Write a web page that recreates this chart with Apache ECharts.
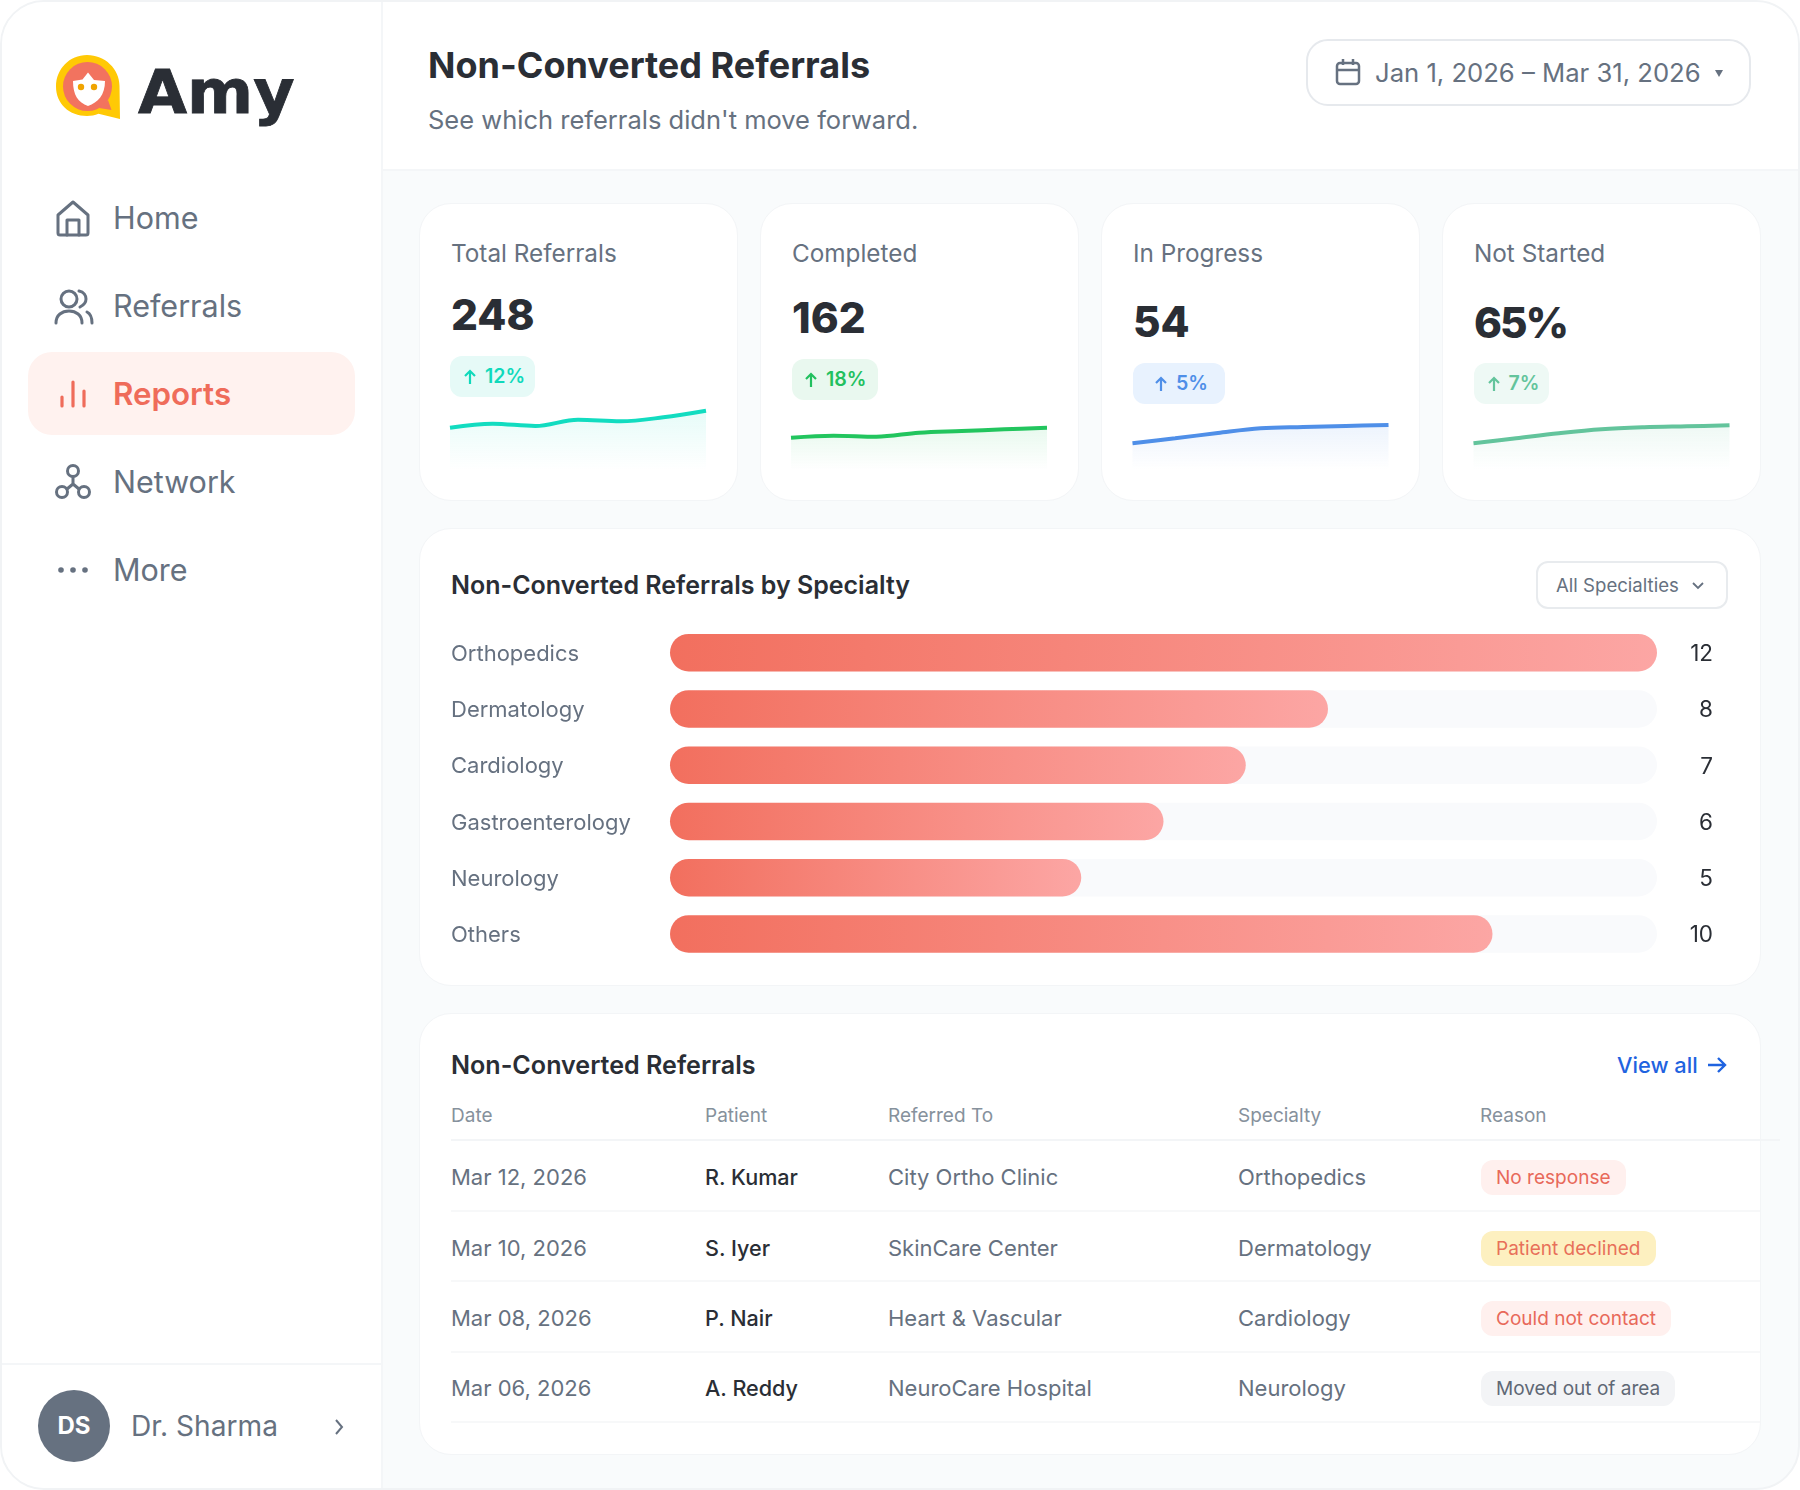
<!DOCTYPE html>
<html><head><meta charset="utf-8">
<script src="https://cdn.jsdelivr.net/npm/echarts@6/dist/echarts.min.js"></script>
<style>
html,body{margin:0;padding:0;background:#fff;width:1800px;height:1490px;overflow:hidden;font-family:Inter,"Noto Sans",sans-serif;-webkit-font-smoothing:antialiased}
#frame{position:absolute;left:0;top:0;width:1796px;height:1486px;border:2px solid #f1f3f5;border-radius:44px;overflow:hidden;background:#f9fbfc}
.abs{position:absolute}
.t{position:absolute;white-space:nowrap;transform:translateY(-50%);line-height:1.2}
.card{position:absolute;background:#fff;border:1px solid #f3f5f7;box-sizing:border-box;border-radius:32px}
#chart{position:absolute;left:0;top:0;width:1800px;height:1490px}
svg{position:absolute;overflow:visible}
</style></head><body>
<div id="frame"></div>
<div id="ui"></div>
<div id="chart"></div>
<script>
// ---- chart data ----
const specialties = ['Orthopedics','Dermatology','Cardiology','Gastroenterology','Neurology','Others'];
const specialtyCounts = [12,8,7,6,5,10];
const sparkTotal = [37.3,41.3,39,45.3,43.7,47.7,54.3];
const sparkCompleted = [27.3,29.3,28.3,32.3,34,35.7,37.3];
const sparkProgress = [21.7,26.7,32,36.7,38,39,40];
const sparkNotStarted = [21.7,26.7,31.7,35.7,37.7,38.7,39.7];
const kpiLabels = ['Total Referrals','Completed','In Progress','Not Started'];
const kpiValues = ['248','162','54','65%'];
const kpiDeltas = ['12%','18%','5%','7%'];
const navItems = ['Home','Referrals','Reports','Network','More'];
const tableHead = ['Date','Patient','Referred To','Specialty','Reason'];
const tableDates = ['Mar 12, 2026','Mar 10, 2026','Mar 08, 2026','Mar 06, 2026'];
const tablePatients = ['R. Kumar','S. Iyer','P. Nair','A. Reddy'];
const tableClinics = ['City Ortho Clinic','SkinCare Center','Heart & Vascular','NeuroCare Hospital'];
const tableSpecialties = ['Orthopedics','Dermatology','Cardiology','Neurology'];
const tableReasons = ['No response','Patient declined','Could not contact','Moved out of area'];

// ---- page chrome ----
const ui = document.getElementById('ui');
function box(x,y,w,h,css){const d=document.createElement('div');d.className='abs';d.style.cssText=`left:${x}px;top:${y}px;width:${w}px;height:${h}px;${css||''}`;ui.appendChild(d);return d;}
function text(s,x,y,size,color,weight,extra){const d=document.createElement('div');d.className='t';d.textContent=s;d.style.cssText=`left:${x}px;top:${y}px;font-size:${size}px;color:${color};font-weight:${weight||400};${extra||''}`;ui.appendChild(d);return d;}
function svg(inner,x,y,w,h){const n=document.createElementNS('http://www.w3.org/2000/svg','svg');n.setAttribute('width',w);n.setAttribute('height',h);n.setAttribute('viewBox',`0 0 ${w} ${h}`);n.style.left=x+'px';n.style.top=y+'px';n.innerHTML=inner;ui.appendChild(n);return n;}
const GREY='#667180', INK='#2a2e35';

// sidebar + header
box(2,2,379,1486,'background:#fff;border-radius:42px 0 0 42px');
box(381,2,1417,168,'background:#fff;border-radius:0 42px 0 0');
box(381,2,2,1486,'background:#f4f6f8');
box(383,169,1415,2,'background:#f4f6f8');
box(2,1363,379,2,'background:#f4f6f8');

// logo
svg(`<path d="M32 1C14.5 1 1 15 1 32.5 1 50 14.5 62 32 62c4 0 8-.8 11.500-2.200L65 65 64.500 32C64.500 15 50 1 32 1Z" fill="#ffc905"/>
<circle cx="32.500" cy="32.500" r="24.500" fill="#f2735f"/><path d="M53 46 56.500 56 44 54Z" fill="#f2735f"/>
<path d="M33 18.500 39 26 50 27C50 41 43 48.500 33 52 23 48.500 18 41 18 27L27.500 25.500Z" fill="#fff"/>
<circle cx="26" cy="33" r="3.200" fill="#f0a400"/><circle cx="39" cy="33" r="3.200" fill="#f0a400"/>`,55,54,66,66);
text('Amy',138,91.500,61,INK,700,'font-family:"DejaVu Sans";transform-origin:0 50%;transform:translateY(-50%) scaleX(1.04);-webkit-text-stroke:.8px '+INK);

// nav
box(28,352,327,83,'background:#fff2ef;border-radius:24px');
const navY=[218,306,395,482,570];
navItems.forEach((n,i)=>{const on=n==='Reports';text(n,113,navY[i],on?31.300:30.500,on?'#ef6c5a':GREY,on?600:400);});
const st=`fill="none" stroke="${GREY}" stroke-width="3" stroke-linecap="round" stroke-linejoin="round"`;
svg(`<path d="M2 15 17 2 32 15V33a2 2 0 0 1-2 2H4a2 2 0 0 1-2-2Z" ${st}/><path d="M11 35V20H23V35" ${st}/>`,56,200,34,38);
svg(`<circle cx="15" cy="10" r="8" ${st}/><path d="M2 34C2 26 8 22 15 22S28 26 28 34" ${st}/><path d="M25 2C30 3 32 7 32 10S30 16 26 18M33 23C37 25 38 29 38 34" ${st}/>`,54,289,40,36);
svg(`<g fill="none" stroke="#ef6c5a" stroke-width="3.200" stroke-linecap="round"><path d="M2 26V17M13 26V2M24 26V11"/></g>`,60,380,26,28);
svg(`<circle cx="18" cy="7" r="5.500" ${st}/><circle cx="7" cy="28" r="5.500" ${st}/><circle cx="29" cy="28" r="5.500" ${st}/><path d="M18 13V20M18 20 12 25M18 20 24 25" ${st}/>`,55,464,36,36);
svg(`<g fill="${GREY}"><circle cx="3" cy="3" r="2.800"/><circle cx="15" cy="3" r="2.800"/><circle cx="27" cy="3" r="2.800"/></g>`,58,567,30,6);

// user
box(38,1390,72,72,'background:#667180;border-radius:50%');
text('DS',74,1426,24,'#fff',700,'transform:translate(-50%,-50%)');
text('Dr. Sharma',131,1427,28.100,GREY);
svg(`<path d="M2 2 8 9 2 16" fill="none" stroke="${GREY}" stroke-width="2"/>`,334,1418,10,18);

// header
text('Non-Converted Referrals',428,66,36,INK,700);
text("See which referrals didn't move forward.",428,120,25.500,GREY);
box(1306,39,445,67,'box-sizing:border-box;border:2px solid #e6e9ed;border-radius:22px;background:#fff');
svg(`<rect x="2" y="5" width="22" height="21" rx="3" fill="none" stroke="${GREY}" stroke-width="2.500"/><path d="M2 12H24M8 1V7M18 1V7" fill="none" stroke="${GREY}" stroke-width="2.500"/>`,1335,58,26,28);
text('Jan 1, 2026 – Mar 31, 2026',1375,73,25.650,GREY);
svg(`<path d="M0 0H8L4 7Z" fill="${GREY}"/>`,1715,70,8,7);

// KPI cards
const cardX=[419,760,1101,1442], textX=[451,792,1133,1474];
const valY=[315,318,321.500,322.500], badge=[[450,356,85,41,'#e6faf7','#10d9bb'],[791.500,359,86,41,'#e9f8ef','#22c05f'],[1132.500,363,92,41,'#e8f2fe','#4f8fe8'],[1473.500,363,75.500,41,'#eef9f5','#63c49c']];
const arrowX=[463,804,1154,1487], deltaX=[485,826,1176,1508.500];
kpiLabels.forEach((l,i)=>{
  const c=document.createElement('div');c.className='card';c.style.cssText=`left:${cardX[i]}px;top:203px;width:319px;height:298px`;ui.appendChild(c);
  text(l,textX[i],254,24.300,GREY);
  text(kpiValues[i],textX[i],valY[i],42.300,INK,800,i===3?'letter-spacing:-2px':'');
  const b=badge[i];
  box(b[0],b[1],b[2],b[3],`background:${b[4]};border-radius:12px`);
  svg(`<path d="M7 15V2M2 7 7 2 12 7" fill="none" stroke="${b[5]}" stroke-width="2.200"/>`,arrowX[i],b[1]+13,14,16);
  text(kpiDeltas[i],deltaX[i],b[1]+21,19.600,b[5],600);
});

// specialty card
{const c=document.createElement('div');c.className='card';c.style.cssText='left:419px;top:528px;width:1342px;height:458px';ui.appendChild(c);}
text('Non-Converted Referrals by Specialty',451,585,25,INK,600);
box(1536,561,192,48,'box-sizing:border-box;border:2px solid #e8ebee;border-radius:12px;background:#fff');
text('All Specialties',1556,584.500,18.600,GREY);
svg(`<path d="M1 1 6 6 11 1" fill="none" stroke="${GREY}" stroke-width="1.800"/>`,1692,582,12,8);

// table card
{const c=document.createElement('div');c.className='card';c.style.cssText='left:419px;top:1012.500px;width:1342px;height:442.500px';ui.appendChild(c);}
text('Non-Converted Referrals',451,1064.500,25.100,INK,600);
text('View all',1617,1065,21.800,'#1f63e0',500);
svg(`<path d="M1 8H18M11 1 18 8 11 15" fill="none" stroke="#1f63e0" stroke-width="2.400"/>`,1707,1057,19,16);
const colX=[451,705,888,1238,1480];
tableHead.forEach((h,i)=>text(h,colX[i],1116,19,'#86919c',400));
box(451,1139,1329,2,'background:#f3f5f7');
const rowY=[1177,1248,1318,1388], lineY=[1210,1280,1351,1421];
const reasonBox=[[144.500,'#fff0ee','#e8695a'],[175,'#fdf0c0','#e8705a'],[190,'#fff0ee','#e8695a'],[194,'#f3f4f6','#5f6875']];
tableDates.forEach((d,i)=>{
  text(d,colX[0],rowY[i],22,GREY);
  text(tablePatients[i],colX[1],rowY[i]+1,21.600,INK,500);
  text(tableClinics[i],colX[2],rowY[i],22,GREY);
  text(tableSpecialties[i],colX[3],rowY[i],22,GREY);
  const r=reasonBox[i];
  box(1481,rowY[i]-17.500+(i?.5:0),r[0],35,`background:${r[1]};border-radius:12px`);
  text(tableReasons[i],1496,rowY[i]+.5,19.050,r[2],400);
  box(451,lineY[i],1309,1.500,'background:#f7f8f9');
});

// ---- charts ----
const chart = echarts.init(document.getElementById('chart'),null,{width:1800,height:1490});
const sparks=[[sparkTotal,'#12dcc0','18,220,192',450],[sparkCompleted,'#22c55e','34,197,94',791],[sparkProgress,'#4f8fe8','79,143,232',1132.500],[sparkNotStarted,'#63c49c','99,196,156',1473.500]];
const grids=[{left:670,width:987,top:624.500,height:337.500}];
const xAxes=[{type:'value',gridIndex:0,min:0,max:12,show:false}];
const yAxes=[
 {type:'category',gridIndex:0,inverse:true,data:specialties,axisLine:{show:false},axisTick:{show:false},
  axisLabel:{align:'left',margin:219,fontFamily:'Inter',fontSize:22,color:'#667180',verticalAlign:'top',lineHeight:3.400}},
 {type:'category',gridIndex:0,inverse:true,position:'right',data:specialtyCounts.map(String),axisLine:{show:false},axisTick:{show:false},
  axisLabel:{align:'right',margin:56,fontFamily:'Inter',fontSize:22.500,color:'#2a2e35',verticalAlign:'top',lineHeight:3.400}}
];
const series=[{type:'bar',xAxisIndex:0,yAxisIndex:0,data:specialtyCounts,barWidth:37.500,
  showBackground:true,backgroundStyle:{color:'#f9fafc',borderRadius:18.750},
  itemStyle:{borderRadius:18.750,color:new echarts.graphic.LinearGradient(0,0,1,0,[{offset:0,color:'#f26f5e'},{offset:1,color:'#fca6a4'}])},silent:true}];
sparks.forEach((s,i)=>{
  grids.push({left:s[3],width:256,top:400,height:70});
  xAxes.push({type:'category',gridIndex:i+1,boundaryGap:false,show:false,data:s[0].map((_,k)=>k)});
  yAxes.push({type:'value',gridIndex:i+1,min:-5,max:65,show:false});
  series.push({type:'line',xAxisIndex:i+1,yAxisIndex:i+2,data:s[0],smooth:.35,symbol:'none',silent:true,
    lineStyle:{color:s[1],width:4,cap:'butt'},
    areaStyle:{origin:'start',color:new echarts.graphic.LinearGradient(0,0,0,1,[{offset:0,color:`rgba(${s[2]},.15)`},{offset:1,color:`rgba(${s[2]},0)`}])}});
});
chart.setOption({animation:false,backgroundColor:'transparent',grid:grids,xAxis:xAxes,yAxis:yAxes,series,tooltip:{show:false}});
</script>
</body></html>
